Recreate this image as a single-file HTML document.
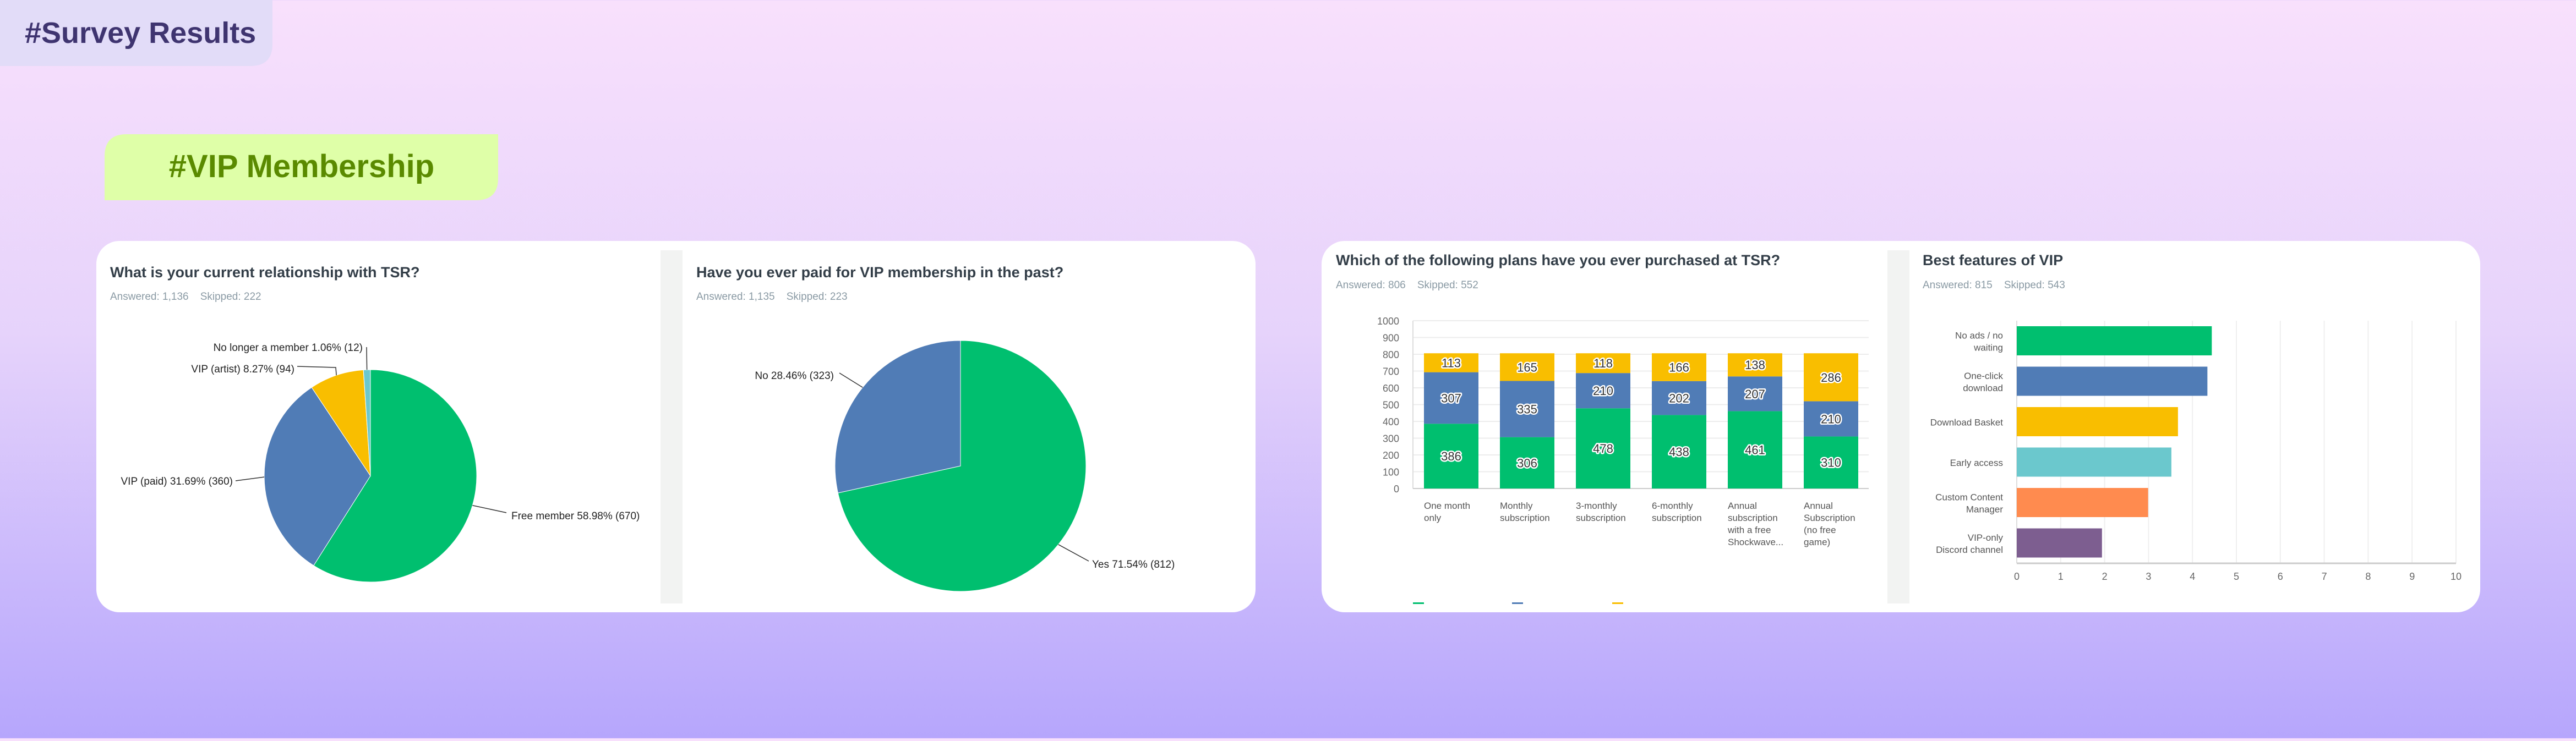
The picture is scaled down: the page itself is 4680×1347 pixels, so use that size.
<!DOCTYPE html>
<html><head><meta charset="utf-8"><style>
html,body{margin:0;padding:0;}
body{width:4680px;height:1342px;overflow:hidden;background:linear-gradient(180deg,#f8e0fc 0%,#e6d3fb 45%,#b6a6fc 100%);font-family:"Liberation Sans",sans-serif;}
svg text{font-family:"Liberation Sans",sans-serif;}
</style></head><body>
<svg id="root" width="4680" height="1342" viewBox="0 0 4680 1342" xmlns="http://www.w3.org/2000/svg">
  <path d="M0 0 H495 V80 Q495 120 455 120 H0 Z" fill="#e2dcf8"/>
  <text x="45" y="78" font-size="54" font-weight="bold" fill="#3f3470">#Survey Results</text>
  <path d="M230 244 H905 V324 Q905 364 865 364 H190 V284 Q190 244 230 244 Z" fill="#dfffa8"/>
  <text x="548" y="322" font-size="58" font-weight="bold" fill="#5a8a00" text-anchor="middle">#VIP Membership</text>

  <rect x="175" y="438" width="2106" height="675" rx="42" fill="#ffffff"/>
  <rect x="1200" y="455" width="40" height="642" fill="#f2f3f2"/>
  <rect x="2401" y="438" width="2105" height="675" rx="42" fill="#ffffff"/>
  <rect x="3429" y="455" width="40" height="642" fill="#f2f3f2"/>

  <text x="200" y="504" font-size="27" font-weight="bold" fill="#333e48">What is your current relationship with TSR?</text>
  <text x="200" y="545" font-size="19" fill="#8a9aa4">Answered: 1,136&#160;&#160;&#160;&#160;Skipped: 222</text>
  <text x="1265" y="504" font-size="27" font-weight="bold" fill="#333e48">Have you ever paid for VIP membership in the past?</text>
  <text x="1265" y="545" font-size="19" fill="#8a9aa4">Answered: 1,135&#160;&#160;&#160;&#160;Skipped: 223</text>
  <text x="2427" y="482" font-size="27" font-weight="bold" fill="#333e48">Which of the following plans have you ever purchased at TSR?</text>
  <text x="2427" y="524" font-size="19" fill="#8a9aa4">Answered: 806&#160;&#160;&#160;&#160;Skipped: 552</text>
  <text x="3493" y="482" font-size="27" font-weight="bold" fill="#333e48">Best features of VIP</text>
  <text x="3493" y="524" font-size="19" fill="#8a9aa4">Answered: 815&#160;&#160;&#160;&#160;Skipped: 543</text>

  <g id="pie1"></g>
  <g id="pie2"></g>
  <g id="bars"></g>
  <g id="hbars"></g>
</svg>
<script>
const pie1Labels = ["Free member 58.98% (670)", "VIP (paid) 31.69% (360)", "VIP (artist) 8.27% (94)", "No longer a member 1.06% (12)"];
const pie1Values = [670, 360, 94, 12];
const pie2Labels = ["Yes 71.54% (812)", "No 28.46% (323)"];
const pie2Values = [812, 323];
const planCategories = [["One month","only"],["Monthly","subscription"],["3-monthly","subscription"],["6-monthly","subscription"],["Annual","subscription","with a free","Shockwave..."],["Annual","Subscription","(no free","game)"]];
const planGreen = [386, 306, 478, 438, 461, 310];
const planBlue = [307, 335, 210, 202, 207, 210];
const planYellow = [113, 165, 118, 166, 138, 286];
const planTicks = [0,100,200,300,400,500,600,700,800,900,1000];
const featureLabels = [["No ads / no","waiting"],["One-click","download"],["Download Basket"],["Early access"],["Custom Content","Manager"],["VIP-only","Discord channel"]];
const featureValues = [4.44, 4.34, 3.67, 3.52, 2.99, 1.94];
const featureTicks = [0,1,2,3,4,5,6,7,8,9,10];

const NS = "http://www.w3.org/2000/svg";
function mk(tag, attrs, parent, txt){
  const e = document.createElementNS(NS, tag);
  for (const k in attrs) e.setAttribute(k, attrs[k]);
  if (txt !== undefined) e.textContent = txt;
  parent.appendChild(e);
  return e;
}
function pie(g, cx, cy, r, vals, colors, names, labels, labelPos){
  const tot = vals.reduce((a,b)=>a+b,0);
  let a0 = -Math.PI/2;
  vals.forEach((v,i)=>{
    const a1 = a0 + v/tot*2*Math.PI;
    const x0 = cx + r*Math.cos(a0), y0 = cy + r*Math.sin(a0);
    const x1 = cx + r*Math.cos(a1), y1 = cy + r*Math.sin(a1);
    const large = (a1-a0) > Math.PI ? 1 : 0;
    const p = mk("path", {d:`M${cx} ${cy} L${x0} ${y0} A${r} ${r} 0 ${large} 1 ${x1} ${y1} Z`, fill:colors[i], stroke:"#fff", "stroke-width":1}, g);
    
    
    const am = (a0+a1)/2;
    const ex = cx + r*Math.cos(am), ey = cy + r*Math.sin(am);
    const lp = labelPos[i];
    const pts = lp.mid ? `${ex},${ey} ${lp.mid} ${lp.lx},${lp.ly}` : `${ex},${ey} ${lp.lx},${lp.ly}`;
    mk("polyline", {points:pts, fill:"none", stroke:"#333", "stroke-width":1.5}, g);
    const t = mk("text", {x:lp.tx, y:lp.ty, "font-size":19, fill:"#222", "text-anchor":lp.anchor}, g, labels[i]);
    
    
    a0 = a1;
  });
}
pie(document.getElementById("pie1"), 673, 865, 193, pie1Values, ["#00bf6f","#507cb6","#f9be00","#6bc8cd"],
  ["free-member","vip-paid","vip-artist","no-longer-member"], pie1Labels,
  [{lx:920,ly:932,tx:929,ty:944,anchor:"start"},{lx:428,ly:874,tx:423,ty:881,anchor:"end"},
   {lx:540,ly:666,mid:"610,668",tx:535,ty:677,anchor:"end"},{lx:666,ly:631,tx:659,ty:638,anchor:"end"}]);
pie(document.getElementById("pie2"), 1745, 847, 228, pie2Values, ["#00bf6f","#507cb6"],
  ["yes","no"], pie2Labels,
  [{lx:1978,ly:1020,tx:1984,ty:1032,anchor:"start"},{lx:1525,ly:678,tx:1515,ty:689,anchor:"end"}]);

// stacked bars
const bg = document.getElementById("bars");
const bx0 = 2567, bx1 = 3395, by0 = 888, by1 = 583, bmax = 1000;
const yS = v => by0 - (v/bmax)*(by0-by1);
planTicks.forEach(t=>{
  mk("line",{x1:bx0,x2:bx1,y1:yS(t),y2:yS(t),stroke:"#ececec","stroke-width":2},bg);
  const tl = mk("text",{x:2542,y:yS(t)+7,"font-size":18,fill:"#666","text-anchor":"end"},bg,String(t));
  
  
});
mk("line",{x1:bx0,x2:bx0,y1:by1,y2:by0,stroke:"#ddd","stroke-width":2},bg);
mk("line",{x1:bx0,x2:bx1,y1:by0,y2:by0,stroke:"#ccc","stroke-width":2},bg);
const step = (bx1-bx0)/planCategories.length, bw = 99;
const series = [[planGreen,"#00bf6f","green"],[planBlue,"#507cb6","blue"],[planYellow,"#f9be00","yellow"]];
planCategories.forEach((cat,i)=>{
  const x = bx0 + 20 + i*step;
  let base = 0;
  series.forEach(([arr,col,nm])=>{
    const v = arr[i];
    const r = mk("rect",{x:x,y:yS(base+v),width:bw,height:yS(base)-yS(base+v),fill:col},bg);
    
    
    const t = mk("text",{x:x+bw/2,y:(yS(base)+yS(base+v))/2+8,"font-size":22,fill:"#333","text-anchor":"middle",stroke:"#fff","stroke-width":5,"paint-order":"stroke","stroke-linejoin":"round"},bg,String(v));
    
    
    base += v;
  });
  cat.forEach((ln,j)=>{
    const t = mk("text",{x:x,y:925+j*22,"font-size":17,fill:"#555"},bg,ln);
    
    
  });
});
[["#00bf6f",2567],["#507cb6",2747],["#f9be00",2929]].forEach(([c,x])=>{
  const l = mk("rect",{x:x,y:1095,width:20,height:3,fill:c},bg);
  
  
});

// horizontal bars
const hg = document.getElementById("hbars");
const hx0 = 3664, hx1 = 4462, hy0 = 583, hy1 = 1024, hmax = 10;
const xS = v => hx0 + (v/hmax)*(hx1-hx0);
featureTicks.forEach(t=>{
  mk("line",{x1:xS(t),x2:xS(t),y1:hy0,y2:hy1,stroke:"#efefef","stroke-width":2},hg);
  const tl = mk("text",{x:xS(t),y:1054,"font-size":18,fill:"#666","text-anchor":"middle"},hg,String(t));
  
  
});
mk("line",{x1:hx0,x2:hx0,y1:hy0,y2:hy1,stroke:"#ddd","stroke-width":2},hg);
mk("line",{x1:hx0,x2:hx1,y1:hy1,y2:hy1,stroke:"#ccc","stroke-width":3},hg);
const hcolors = ["#00bf6f","#507cb6","#f9be00","#6bc8cd","#ff8b4f","#7d5e90"];
const hstep = (hy1-hy0)/featureLabels.length;
featureValues.forEach((v,i)=>{
  const y = hy0 + 10 + i*hstep;
  const r = mk("rect",{x:hx0,y:y,width:xS(v)-hx0,height:53,fill:hcolors[i]},hg);
  
  
  const lines = featureLabels[i];
  const cy = y + 26.5;
  lines.forEach((ln,j)=>{
    const t = mk("text",{x:3639,y:cy + 7 + (j - (lines.length-1)/2)*22,"font-size":17,fill:"#555","text-anchor":"end"},hg,ln);
    
    
  });
});
</script>
</body></html>
